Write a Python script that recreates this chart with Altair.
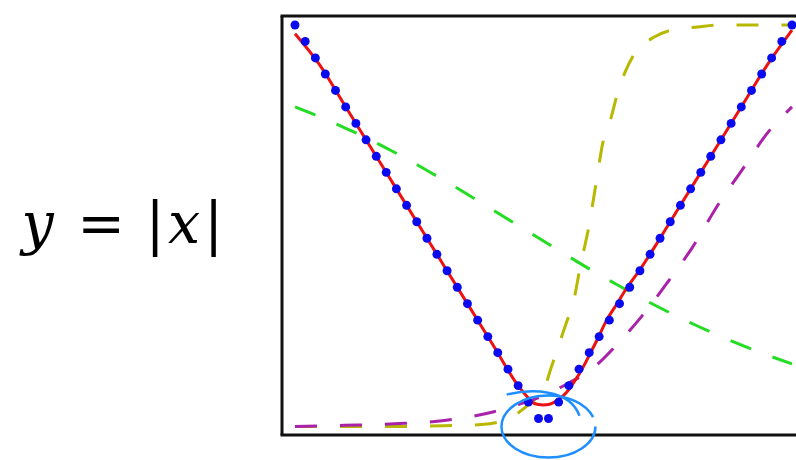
import altair as alt
import pandas as pd

# Training samples of y = |x| (50 evenly spaced inputs on [-1, 1])
dot_x = [-1.000, -0.959, -0.918, -0.878, -0.837, -0.796, -0.755, -0.714, -0.673, -0.633,
         -0.592, -0.551, -0.510, -0.469, -0.429, -0.388, -0.347, -0.306, -0.265, -0.224,
         -0.184, -0.143, -0.102, -0.061, -0.020,
         0.020, 0.061, 0.102, 0.143, 0.184, 0.224, 0.265, 0.306, 0.347, 0.388,
         0.429, 0.469, 0.510, 0.551, 0.592, 0.633, 0.673, 0.714, 0.755, 0.796,
         0.837, 0.878, 0.918, 0.959, 1.000]
dot_y = [1.000, 0.959, 0.918, 0.878, 0.837, 0.796, 0.755, 0.714, 0.673, 0.633,
         0.592, 0.551, 0.510, 0.469, 0.429, 0.388, 0.347, 0.306, 0.265, 0.224,
         0.184, 0.143, 0.102, 0.061, 0.020,
         0.020, 0.061, 0.102, 0.143, 0.184, 0.224, 0.265, 0.306, 0.347, 0.388,
         0.429, 0.469, 0.510, 0.551, 0.592, 0.633, 0.673, 0.714, 0.755, 0.796,
         0.837, 0.878, 0.918, 0.959, 1.000]

# Network output (solid red curve)
fit_x = [-1.0, -0.9, -0.8, -0.7, -0.6, -0.5, -0.4, -0.3, -0.2, -0.1, -0.061, -0.042, -0.02,
         0.0, 0.02, 0.038, 0.062, 0.094, 0.125, 0.155, 0.187, 0.219, 0.254, 0.295, 0.335,
         0.384, 0.45, 0.5, 0.6, 0.7, 0.8, 0.9, 1.0]
fit_y = [0.978, 0.9, 0.8, 0.7, 0.6, 0.5, 0.4, 0.3, 0.2, 0.1, 0.071, 0.059, 0.055,
         0.054, 0.055, 0.059, 0.068, 0.086, 0.113, 0.143, 0.181, 0.22, 0.265, 0.305, 0.345,
         0.387, 0.45, 0.5, 0.6, 0.7, 0.8, 0.9, 0.987]

# Hidden unit outputs (dashed curves)
h1_x = [-1.0, -0.9, -0.8, -0.7, -0.6, -0.5, -0.4, -0.3, -0.2, -0.1, 0.0,
        0.1, 0.2, 0.3, 0.4, 0.5, 0.6, 0.7, 0.8, 0.9, 1.0]
h1_y = [0.796, 0.771, 0.744, 0.715, 0.683, 0.649, 0.613, 0.576, 0.538, 0.500, 0.462,
        0.424, 0.387, 0.352, 0.318, 0.286, 0.256, 0.228, 0.202, 0.178, 0.156]

h2_x = [-1.0, -0.6, -0.4, -0.25, -0.155, -0.1, -0.05, 0.0, 0.03, 0.06, 0.09, 0.12,
        0.15, 0.18, 0.21, 0.24, 0.27, 0.3, 0.33, 0.37, 0.44, 0.52, 0.62, 0.71, 1.0]
h2_y = [0.0, 0.0, 0.002, 0.005, 0.016, 0.035, 0.06, 0.09, 0.145, 0.2, 0.255, 0.31,
        0.405, 0.49, 0.6, 0.71, 0.765, 0.835, 0.885, 0.932, 0.968, 0.988, 0.995, 1.0, 1.0]

h3_x = [-1.0, -0.8, -0.6, -0.4, -0.2, -0.1, 0.0, 0.1, 0.2, 0.3, 0.4, 0.5, 0.6,
        0.7, 0.8, 0.9, 1.0]
h3_y = [0.0, 0.003, 0.007, 0.015, 0.037, 0.055, 0.077, 0.108, 0.146, 0.207, 0.278,
        0.36, 0.447, 0.55, 0.64, 0.73, 0.796]

# Circled samples near the kink
mark_x = [0.02]
mark_y = [0.0]

W, H = 514, 419
x_scale = alt.Scale(domain=[-1.0523, 1.0161], nice=False, zero=False)
y_scale = alt.Scale(domain=[-0.021, 1.0224], nice=False, zero=False)


def enc():
    return dict(
        x=alt.X("x:Q", scale=x_scale, axis=None),
        y=alt.Y("y:Q", scale=y_scale, axis=None),
    )


def frame(xs, ys):
    return pd.DataFrame({"x": xs, "y": ys})


one = pd.DataFrame({"k": [0]})

# Box on the left, top and bottom edges
edge_left = alt.Chart(one).mark_rule(color="#111111", strokeWidth=3).encode(
    x=alt.value(0), y=alt.value(0), y2=alt.value(H))
edge_top = alt.Chart(one).mark_rule(color="#111111", strokeWidth=3).encode(
    x=alt.value(-1.5), x2=alt.value(W), y=alt.value(0))
edge_bottom = alt.Chart(one).mark_rule(color="#111111", strokeWidth=3).encode(
    x=alt.value(-1.5), x2=alt.value(W), y=alt.value(H))

dash = [22, 23]
green = alt.Chart(frame(h1_x, h1_y)).mark_line(
    color="#22dd22", strokeWidth=3, strokeDash=dash, interpolate="monotone").encode(**enc())
yellow = alt.Chart(frame(h2_x, h2_y)).mark_line(
    color="#b8b800", strokeWidth=3, strokeDash=dash, interpolate="monotone").encode(**enc())
purple = alt.Chart(frame(h3_x, h3_y)).mark_line(
    color="#aa22aa", strokeWidth=3, strokeDash=dash, interpolate="monotone").encode(**enc())

fit = alt.Chart(frame(fit_x, fit_y)).mark_line(
    color="#ee1111", strokeWidth=3, interpolate="monotone").encode(**enc())

dots = alt.Chart(frame(dot_x, dot_y)).mark_circle(
    size=80, color="#0a0aee", opacity=1).encode(**enc())

# Hand-drawn loop: an ellipse plus a curling stroke across its top
loop_path = ("M1,0 C1,0.3645 0.5523,0.66 0,0.66 C-0.5523,0.66 -1,0.3645 -1,0 "
             "C-1,-0.3645 -0.5523,-0.66 0,-0.66 C0.4,-0.66 0.8,-0.5 0.95,-0.2 "
             "M-0.89,-0.68 C-0.4,-0.8 0.45,-0.82 0.66,-0.23")
loop = alt.Chart(frame(mark_x, mark_y)).mark_point(
    shape=loop_path, size=8836, filled=False, stroke="#1f8fff",
    strokeWidth=2.5, opacity=1).encode(**enc())

# Equation label to the left of the box
label_font = "DejaVu Serif"
pieces = [("y", "italic", -244.5), ("=", "normal", -181), ("|", "normal", -127),
          ("x", "italic", -98), ("|", "normal", -68.5)]
label_layers = [
    alt.Chart(one).mark_text(
        text=txt, font=label_font, fontSize=57, fontStyle=style, align="center",
        baseline="alphabetic", color="#000000").encode(x=alt.value(px), y=alt.value(227))
    for txt, style, px in pieces
]

chart = alt.layer(
    edge_left, edge_top, edge_bottom, green, yellow, purple, fit, dots, loop, *label_layers
).properties(
    width=W, height=H,
    autosize=alt.AutoSizeParams(type="none"),
    padding={"left": 282, "top": 16, "right": 0, "bottom": 25},
    background="white",
).configure_view(stroke=None)

chart.save("out.html", embed_options={"renderer": "svg", "actions": False})
